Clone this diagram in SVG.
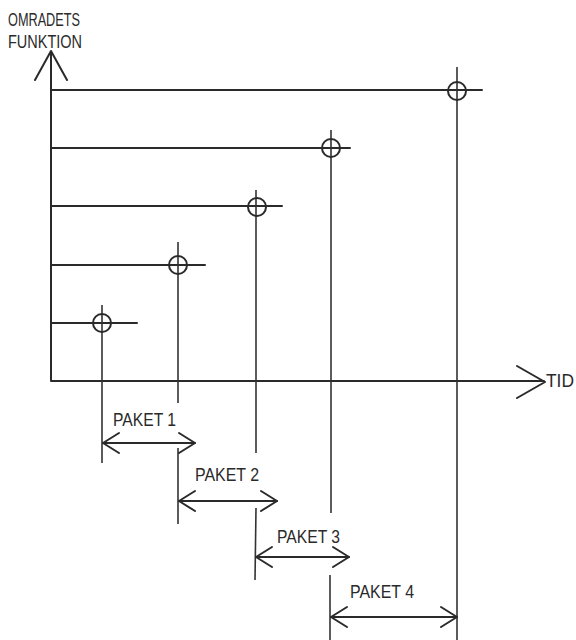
<svg xmlns="http://www.w3.org/2000/svg" width="576" height="640" viewBox="0 0 576 640">
<style>
.l{stroke:#2a2a2a;stroke-width:2;fill:none;stroke-linecap:round;stroke-linejoin:round}
.t{stroke:#333;stroke-width:1.6;fill:none}
.c{stroke:#2a2a2a;stroke-width:2;fill:none}
text{font-family:"Liberation Sans",Arial,sans-serif;font-size:18px;fill:#2a2a2a}
</style>
<defs>
<marker id="ah" viewBox="0 0 20 24" refX="18" refY="12" markerWidth="20" markerHeight="24" markerUnits="userSpaceOnUse" orient="auto-start-reverse">
<path d="M2,2 L18,12 L2,22" class="l"/>
</marker>
</defs>
<rect width="576" height="640" fill="#fff"/>
<g id="axes">
<path class="l" d="M51,380 L51,51 M35,80 L51,51 L67,80"/>
<path class="l" d="M51,381 L544,381 M517,366 L545,382 L517,398"/>
<text x="546" y="387" textLength="28" lengthAdjust="spacingAndGlyphs">TID</text>
<text x="8" y="26" textLength="72" lengthAdjust="spacingAndGlyphs">OMRADETS</text>
<text x="8" y="48" textLength="74" lengthAdjust="spacingAndGlyphs">FUNKTION</text>
</g>
<g id="connectors">
<line class="l" x1="51" y1="90" x2="482" y2="90"/>
<line class="l" x1="51" y1="148" x2="350" y2="148"/>
<line class="l" x1="51" y1="206" x2="282" y2="206"/>
<line class="l" x1="51" y1="265" x2="205" y2="265"/>
<line class="l" x1="51" y1="323" x2="137" y2="323"/>
<line class="t" x1="102" y1="305" x2="102" y2="463"/>
<line class="t" x1="178" y1="242" x2="178" y2="403"/>
<line class="t" x1="178" y1="448" x2="178" y2="524"/>
<line class="t" x1="256" y1="190" x2="256" y2="453"/>
<line class="t" x1="256" y1="508" x2="255" y2="580"/>
<line class="t" x1="331" y1="130" x2="331" y2="513"/>
<line class="t" x1="330" y1="575" x2="330" y2="640"/>
<line class="t" x1="457" y1="67" x2="457" y2="640"/>
</g>
<g id="n1"><circle class="c" cx="102" cy="323" r="9"/></g>
<g id="n2"><circle class="c" cx="178" cy="265" r="9"/></g>
<g id="n3"><circle class="c" cx="257" cy="207" r="9"/></g>
<g id="n4"><circle class="c" cx="331" cy="148" r="9"/></g>
<g id="n5"><circle class="c" cx="457" cy="91" r="9"/></g>
<g id="paket1">
<line class="l" x1="103" y1="443" x2="195" y2="443" marker-start="url(#ah)" marker-end="url(#ah)"/>
<text x="113" y="426" textLength="63" lengthAdjust="spacingAndGlyphs">PAKET 1</text>
</g>
<g id="paket2">
<line class="l" x1="179" y1="501" x2="277" y2="501" marker-start="url(#ah)" marker-end="url(#ah)"/>
<text x="195" y="481" textLength="64" lengthAdjust="spacingAndGlyphs">PAKET 2</text>
</g>
<g id="paket3">
<line class="l" x1="256" y1="557" x2="349" y2="557" marker-start="url(#ah)" marker-end="url(#ah)"/>
<text x="277" y="543" textLength="63" lengthAdjust="spacingAndGlyphs">PAKET 3</text>
</g>
<g id="paket4">
<line class="l" x1="331" y1="617" x2="457" y2="617" marker-start="url(#ah)" marker-end="url(#ah)"/>
<text x="350" y="598" textLength="64" lengthAdjust="spacingAndGlyphs">PAKET 4</text>
</g>
</svg>
